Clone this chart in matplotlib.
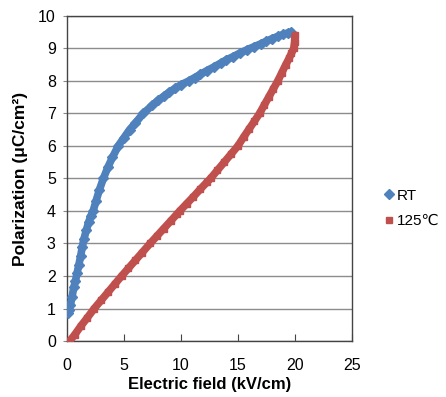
import matplotlib
matplotlib.use("Agg")
import matplotlib.pyplot as plt
from matplotlib.lines import Line2D

plt.rcParams['font.family'] = ['Liberation Sans', 'DejaVu Sans', 'Noto Sans CJK SC']

# RT branch (blue diamonds)
rt_x = [0.1, 0.2, 0.3, 0.45, 0.6, 0.75, 0.9, 1.05, 1.2, 1.35, 1.5, 1.7, 1.9, 2.1,
        2.3, 2.55, 2.85, 3.2, 3.6, 4.0, 4.5, 5.0, 5.5, 6.0, 6.7, 7.5, 8.0, 8.5,
        9.0, 9.5, 10.0, 10.7, 11.2, 11.7, 12.3, 12.9, 13.5, 14.0, 14.6, 15.2,
        15.8, 16.4, 17.0, 17.5, 18.0, 18.5, 19.0, 19.4, 19.7]
rt_y = [0.86, 0.95, 1.1, 1.35, 1.65, 1.85, 2.1, 2.35, 2.6, 2.9, 3.15, 3.4, 3.65, 3.85,
        4.0, 4.3, 4.65, 5.0, 5.35, 5.65, 6.0, 6.25, 6.5, 6.7, 7.0, 7.25, 7.4, 7.53,
        7.66, 7.77, 7.88, 8.0, 8.1, 8.2, 8.32, 8.43, 8.55, 8.65, 8.75, 8.86,
        8.96, 9.05, 9.14, 9.22, 9.3, 9.37, 9.43, 9.48, 9.5]

# 125 C branch (red squares)
ht_x = [20.0, 19.97, 19.9, 19.7, 19.5, 19.2, 18.85, 18.5, 18.1, 17.7, 17.3, 16.9,
        16.45, 16.0, 15.5, 15.0, 14.4, 13.8, 13.2, 12.6, 12.3, 11.7, 11.1, 10.5,
        9.9, 9.7, 9.1, 8.5, 7.9, 7.3, 6.6, 6.0, 5.4, 4.8, 4.2, 3.6, 3.0, 2.4,
        1.8, 1.2, 0.7, 0.25]
ht_y = [9.4, 9.2, 9.0, 8.85, 8.7, 8.5, 8.25, 8.0, 7.75, 7.5, 7.25, 7.0,
        6.76, 6.53, 6.27, 6.0, 5.75, 5.5, 5.25, 5.0, 4.89, 4.67, 4.44, 4.22,
        4.0, 3.92, 3.69, 3.46, 3.23, 3.0, 2.72, 2.48, 2.24, 2.0, 1.75, 1.5, 1.25, 1.0,
        0.72, 0.45, 0.2, 0.0]

blue = '#4F81BD'
red = '#C0504D'

fig = plt.figure(figsize=(4.46, 3.97), dpi=100)
ax = fig.add_axes([0.150, 0.141, 0.639, 0.819])

ax.plot(rt_x, rt_y, color=blue, lw=5.5, marker='D', ms=5, mec=blue, label='RT',
        solid_capstyle='round', zorder=3)
ax.plot(ht_x, ht_y, color=red, lw=5.5, marker='s', ms=5, mec=red, label='125℃',
        solid_capstyle='round', zorder=3)

ax.set_xlim(0, 25)
ax.set_ylim(0, 10)
ax.set_xticks(range(0, 26, 5))
ax.set_yticks(range(0, 11))
ax.yaxis.grid(True, color='#8c8c8c', lw=1)
ax.set_axisbelow(True)
ax.tick_params(axis='x', direction='in', length=5, labelsize=11.5, pad=12, color='#444444')
ax.tick_params(axis='y', direction='out', length=3, labelsize=11.5, pad=5, color='#888888')
for s in ax.spines.values():
    s.set_color('#444444')
    s.set_linewidth(1)

ax.set_xlabel('Electric field (kV/cm)', fontsize=12, fontweight='bold', labelpad=3)
ax.set_ylabel('Polarization (μC/cm²)', fontsize=12.5, fontweight='bold', labelpad=7)

labels = ['RT', '125℃']
h1 = Line2D([], [], color=blue, marker='D', ls='none', ms=5)
h2 = Line2D([], [], color=red, marker='s', ls='none', ms=4.5)
fig.legend([h1, h2], labels, loc='center left', bbox_to_anchor=(0.83, 0.475),
           frameon=False, fontsize=11, handlelength=0.6, handletextpad=0.25,
           labelspacing=0.75)

fig.savefig('out.png', dpi=100)
